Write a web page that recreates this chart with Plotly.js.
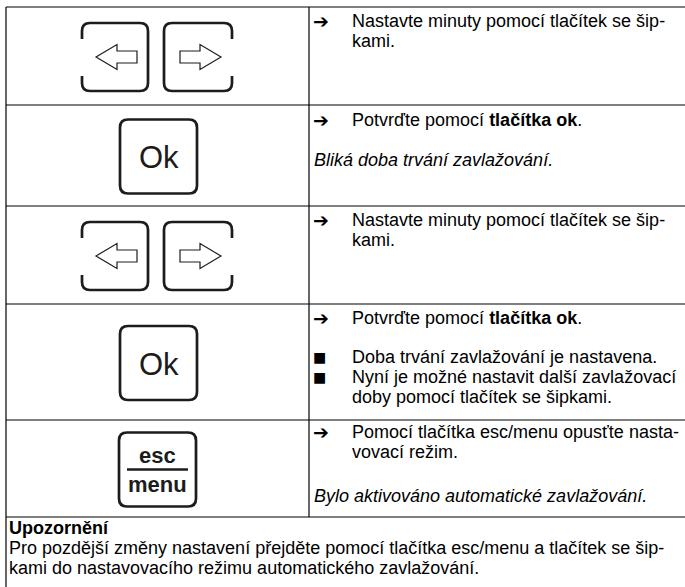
<!DOCTYPE html>
<html>
<head>
<meta charset="utf-8">
<script src="https://cdn.plot.ly/plotly-3.0.1.min.js"></script>
<style>html,body{margin:0;padding:0;background:#fff;}#chart{width:685px;height:587px;}</style>
</head>
<body>
<div id="chart"></div>
<script>
// ---- content ----
const stepIcons = ['arrows', 'ok', 'arrows', 'ok', 'escmenu'];
const stepMarkers = [
  ['➔', ''],
  ['➔', ''],
  ['➔', ''],
  ['➔', '■', '■', ''],
  ['➔', '', '']
];
const stepLines = [
  ['Nastavte minuty pomocí tlačítek se šip-', 'kami.'],
  ['Potvrďte pomocí <b>tlačítka ok</b>.', '<i>Bliká doba trvání zavlažování.</i>'],
  ['Nastavte minuty pomocí tlačítek se šip-', 'kami.'],
  ['Potvrďte pomocí <b>tlačítka ok</b>.', 'Doba trvání zavlažování je nastavena.', 'Nyní je možné nastavit další zavlažovací', 'doby pomocí tlačítek se šipkami.'],
  ['Pomocí tlačítka esc/menu opusťte nasta-', 'vovací režim.', '<i>Bylo aktivováno automatické zavlažování.</i>']
];
const noteTitle = 'Upozornění';
const noteLines = [
  'Pro pozdější změny nastavení přejděte pomocí tlačítka esc/menu a tlačítek se šip-',
  'kami do nastavovacího režimu automatického zavlažování.'
];
const okLabel = 'Ok';
const escLabels = ['esc', 'menu'];

// ---- layout geometry ----
const W = 685, H = 587;
const xLeft = 6, xDiv = 309, xMark = 312, xText = 350;
const rowLinesY = [7, 105, 206, 304, 420, 517];
const textY = [
  [21, 41],
  [120, 160],
  [220, 240],
  [318, 357, 377, 397],
  [432, 452, 496]
];
const noteY = [528, 548, 568];
const FONT = 'Liberation Sans, Arial, sans-serif';
const INK = '#1c1c1c';

const shapes = [];
const ann = [];

function line(x0, y0, x1, y1, w, c) {
  shapes.push({type: 'line', xref: 'x', yref: 'y', x0, y0, x1, y1,
    line: {color: c || '#000', width: w || 1}});
}
function path(d, w, c, fill) {
  shapes.push({type: 'path', xref: 'x', yref: 'y', path: d,
    fillcolor: fill || 'rgba(0,0,0,0)',
    line: {color: c || INK, width: w}});
}
function rrect(x0, y0, x1, y1, r) {
  return `M${x0},${y0 + r} Q${x0},${y0} ${x0 + r},${y0} L${x1 - r},${y0} Q${x1},${y0} ${x1},${y0 + r} ` +
    `L${x1},${y1 - r} Q${x1},${y1} ${x1 - r},${y1} L${x0 + r},${y1} Q${x0},${y1} ${x0},${y1 - r} Z`;
}
// rounded rect with an open gap on one side ('left' or 'right')
function rrectGap(x0, y0, x1, y1, r, side, g0, g1) {
  if (side === 'left') {
    return `M${x0},${g1} L${x0},${y1 - r} Q${x0},${y1} ${x0 + r},${y1} L${x1 - r},${y1} Q${x1},${y1} ${x1},${y1 - r} ` +
      `L${x1},${y0 + r} Q${x1},${y0} ${x1 - r},${y0} L${x0 + r},${y0} Q${x0},${y0} ${x0},${y0 + r} L${x0},${g0}`;
  }
  return `M${x1},${g1} L${x1},${y1 - r} Q${x1},${y1} ${x1 - r},${y1} L${x0 + r},${y1} Q${x0},${y1} ${x0},${y1 - r} ` +
    `L${x0},${y0 + r} Q${x0},${y0} ${x0 + r},${y0} L${x1 - r},${y0} Q${x1},${y0} ${x1},${y0 + r} L${x1},${g0}`;
}
function text(x, y, t, size, opts) {
  opts = opts || {};
  ann.push(Object.assign({x, y, xref: 'x', yref: 'y', text: t, showarrow: false,
    xanchor: 'left', yanchor: 'middle',
    font: {family: FONT, size: size, color: '#000'}}, opts));
}

// table lines
rowLinesY.forEach(y => line(xLeft, y, W + 5, y, 1.2));
line(xLeft, rowLinesY[0], xLeft, H + 5, 1.2);
line(xDiv, rowLinesY[0], xDiv, rowLinesY[5], 1.2);

// icons in left column
stepIcons.forEach((kind, i) => {
  const cy = (rowLinesY[i] + rowLinesY[i + 1]) / 2 + 1;
  if (kind === 'arrows') {
    const y0 = cy - 34, y1 = cy + 34;
    path(rrectGap(82, y0, 148, y1, 8, 'left', cy - 18, cy + 19), 2.7);
    path(rrectGap(164, y0, 232, y1, 8, 'right', cy - 18, cy + 19), 2.7);
    path(`M96,${cy} L117,${cy - 12.5} L117,${cy - 6} L137,${cy - 6} L137,${cy + 6} L117,${cy + 6} L117,${cy + 12.5} Z`, 1.2);
    path(`M221,${cy} L200,${cy - 12.5} L200,${cy - 6} L180,${cy - 6} L180,${cy + 6} L200,${cy + 6} L200,${cy + 12.5} Z`, 1.2);
  } else if (kind === 'ok') {
    path(rrect(120, cy - 37, 197, cy + 37, 8), 2.7);
    text(158.5, cy + 1, okLabel, 31, {xanchor: 'center', font: {family: FONT, size: 31, color: INK}});
  } else {
    path(rrect(119, cy - 37, 196, cy + 37, 8), 2.7);
    line(127, cy, 188, cy, 2.6, INK);
    text(157.5, cy - 14, '<b>' + escLabels[0] + '</b>', 22, {xanchor: 'center', font: {family: FONT, size: 22, color: INK}});
    text(157.5, cy + 15, '<b>' + escLabels[1] + '</b>', 22, {xanchor: 'center', font: {family: FONT, size: 22, color: INK}});
  }
});

// right column texts
stepLines.forEach((lines, i) => {
  lines.forEach((t, j) => {
    const y = textY[i][j];
    const m = stepMarkers[i][j];
    const italic = t.indexOf('<i>') === 0;
    if (m === '➔') text(xMark - 1, y, '<b>' + m + '</b>', 19, {font: {family: 'DejaVu Sans', size: 19, color: '#000'}});
    if (m === '■') text(xMark - 1, y, m, 14, {font: {family: 'DejaVu Sans', size: 14, color: '#000'}});
    text(italic ? xMark : xText, y, t, 18);
  });
});

// note section
text(xLeft + 1, noteY[0], '<b>' + noteTitle + '</b>', 18);
noteLines.forEach((t, j) => text(xLeft + 1, noteY[j + 1], t, 18));

Plotly.newPlot('chart', [{x: [], y: [], type: 'scatter', hoverinfo: 'skip', showlegend: false}], {
  width: W, height: H,
  margin: {l: 0, r: 0, t: 0, b: 0},
  paper_bgcolor: '#fff', plot_bgcolor: '#fff',
  xaxis: {range: [0, W], visible: false, fixedrange: true},
  yaxis: {range: [H, 0], visible: false, fixedrange: true},
  shapes: shapes,
  annotations: ann,
  showlegend: false
}, {displayModeBar: false, staticPlot: true});
</script>
</body>
</html>
